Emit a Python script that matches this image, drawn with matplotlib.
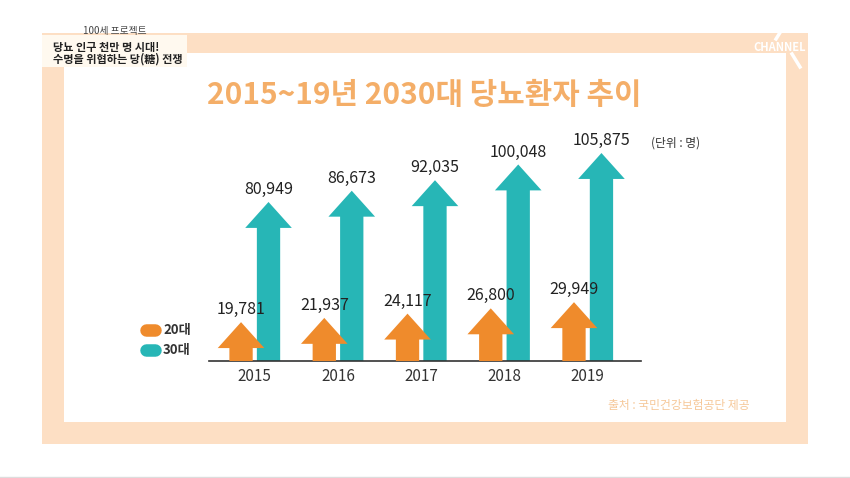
import numpy as np
import matplotlib
matplotlib.use("Agg")
import matplotlib.pyplot as plt
from matplotlib.patches import Rectangle
from matplotlib.lines import Line2D

plt.rcParams['font.family'] = ['Noto Sans CJK KR', 'DejaVu Sans']

# data
years = ['2015', '2016', '2017', '2018', '2019']
age20 = [19781, 21937, 24117, 26800, 29949]
age30 = [80949, 86673, 92035, 100048, 105875]
series_names = ['20대', '30대']
title = '2015~19년 2030대 당뇨환자 추이'

ORANGE = '#EF8B2C'
TEAL = '#27B6B6'
PEACH = '#FDDFC4'

W, H = 850, 478
fig = plt.figure(figsize=(W / 100, H / 100), dpi=100)
fig.patch.set_facecolor('white')


def fx(px):
    return px / W


def fy(py):
    return 1 - py / H


def rect(x0, y0, x1, y1, color, z=0):
    fig.add_artist(Rectangle((fx(x0), fy(y1)), fx(x1) - fx(x0), fy(y0) - fy(y1),
                             transform=fig.transFigure, color=color, lw=0, zorder=z))


# frame
rect(42, 33, 808, 444, PEACH)
rect(64, 53, 786, 422, 'white')
rect(42, 35, 187, 67, '#FFF9EF')
fig.add_artist(Line2D([0, 1], [fy(477), fy(477)], transform=fig.transFigure,
                      color='#DDDDDD', lw=1))

# caption box text
fig.text(fx(115), fy(31), '100세 프로젝트', fontsize=7, color='#444444',
         ha='center', va='center')
fig.text(fx(53), fy(48), '당뇨 인구 천만 명 시대!', fontsize=8, color='#222222',
         fontweight='bold', ha='left', va='center')
fig.text(fx(53), fy(59.5), '수명을 위협하는 당(糖) 전쟁', fontsize=8, color='#222222',
         fontweight='bold', ha='left', va='center')

# channel logo
fig.text(fx(753), fy(47), 'CHANNEL', fontsize=8, color='white', fontweight='bold',
         ha='left', va='center', zorder=5)
fig.add_artist(Line2D([fx(776), fx(781)], [fy(39), fy(31)], transform=fig.transFigure,
                      color='white', lw=2.5, zorder=5))
fig.add_artist(Line2D([fx(792), fx(800)], [fy(54), fy(67)], transform=fig.transFigure,
                      color='white', lw=2.5, zorder=5))

# title
fig.text(fx(424), fy(95), title, fontsize=21.5, color='#F4AE68', fontweight='bold',
         ha='center', va='center')
fig.text(fx(651), fy(143), '(단위 : 명)', fontsize=8.5, color='#333333',
         ha='left', va='center')
fig.text(fx(750), fy(405), '출처 : 국민건강보험공단 제공', fontsize=8.5, color='#F6C899',
         ha='right', va='center')

# chart
ax = fig.add_axes([fx(209), fy(361), fx(641) - fx(209), fy(140) - fy(361)])
ax.set_xlim(-0.55, 4.64)
ax.set_ylim(0, 112500)
ax.patch.set_alpha(0)
for s in ['top', 'left', 'right']:
    ax.spines[s].set_visible(False)
ax.spines['bottom'].set_color('#333333')
ax.spines['bottom'].set_linewidth(1.2)
ax.set_yticks([])
x = np.arange(len(years))
ax.set_xticks(x)
ax.set_xticklabels(years, fontsize=11, color='#333333')
ax.tick_params(axis='x', length=0, pad=5)

off = 0.165
shaft = 0.28
head_w = 0.56
head_l = 13200

for i in range(len(years)):
    ax.arrow(x[i] + off, 0, 0, age30[i], width=shaft, head_width=head_w,
             head_length=head_l, length_includes_head=True, color=TEAL, lw=0, zorder=2)
    ax.arrow(x[i] - off, 0, 0, age20[i], width=shaft, head_width=head_w,
             head_length=head_l, length_includes_head=True, color=ORANGE, lw=0, zorder=3)
    ax.text(x[i] + off, age30[i] + 2000, f'{age30[i]:,}', fontsize=11.5,
            color='#222222', ha='center', va='bottom')
    ax.text(x[i] - off, age20[i] + 2000, f'{age20[i]:,}', fontsize=11.5,
            color='#222222', ha='center', va='bottom')

# legend
for name, color, py in [(series_names[0], ORANGE, 330), (series_names[1], TEAL, 350)]:
    fig.add_artist(Line2D([fx(146), fx(155)], [fy(py), fy(py)], transform=fig.transFigure,
                          color=color, lw=9, solid_capstyle='round'))
    fig.text(fx(163), fy(py), name, fontsize=9.5, color='#333333', fontweight='bold',
             ha='left', va='center')

fig.savefig('out.png', dpi=100)
